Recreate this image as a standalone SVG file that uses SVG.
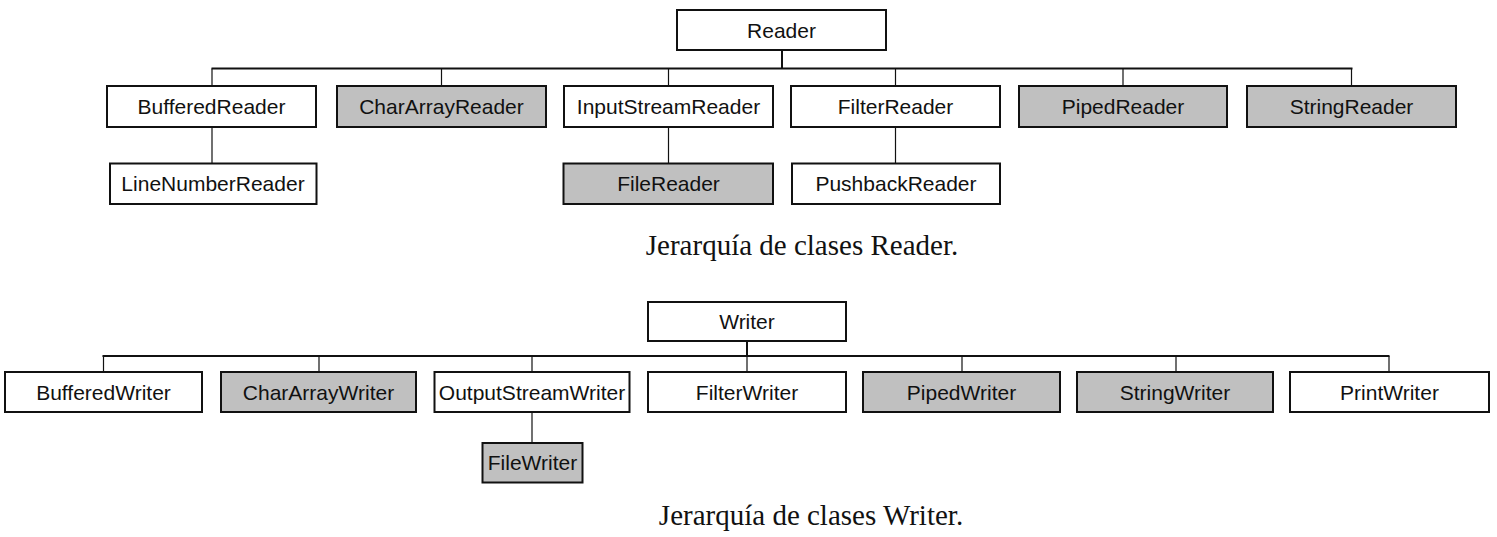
<svg xmlns="http://www.w3.org/2000/svg" width="1497" height="537" viewBox="0 0 1497 537">
<style>
.box{fill:#ffffff;stroke:#111;stroke-width:2}
.gray{fill:#c0c0c0;stroke:#111;stroke-width:2}
.lbl{font-family:"Liberation Sans",Arial,sans-serif;font-size:21px;fill:#111;text-anchor:middle}
.cap{font-family:"Liberation Serif","Times New Roman",serif;font-size:29px;fill:#111;text-anchor:middle}
.bus{stroke:#111;stroke-width:2;fill:none}
.thin{stroke:#111;stroke-width:1.2;fill:none}
</style>
<rect width="1497" height="537" fill="#ffffff"/>
<g id="connectors">
  <line class="bus" x1="782" y1="50" x2="782" y2="68.5"/>
  <line class="bus" x1="211.5" y1="68.5" x2="1352.5" y2="68.5"/>
  <line class="thin" x1="212" y1="68.5" x2="212" y2="86"/>
  <line class="thin" x1="441.5" y1="68.5" x2="441.5" y2="86"/>
  <line class="thin" x1="668.5" y1="68.5" x2="668.5" y2="86"/>
  <line class="thin" x1="895.5" y1="68.5" x2="895.5" y2="86"/>
  <line class="thin" x1="1123" y1="68.5" x2="1123" y2="86"/>
  <line class="thin" x1="1351.5" y1="68.5" x2="1351.5" y2="86"/>
  <line class="thin" x1="212" y1="127" x2="212" y2="163.5"/>
  <line class="thin" x1="668.5" y1="127" x2="668.5" y2="163.5"/>
  <line class="thin" x1="895.5" y1="127" x2="895.5" y2="163.5"/>
  <line class="bus" x1="747" y1="341" x2="747" y2="356"/>
  <line class="bus" x1="102.5" y1="356" x2="1389.5" y2="356"/>
  <line class="thin" x1="103.5" y1="356" x2="103.5" y2="372"/>
  <line class="thin" x1="319" y1="356" x2="319" y2="372"/>
  <line class="thin" x1="532" y1="356" x2="532" y2="372"/>
  <line class="thin" x1="747" y1="356" x2="747" y2="372"/>
  <line class="thin" x1="962" y1="356" x2="962" y2="372"/>
  <line class="thin" x1="1176" y1="356" x2="1176" y2="372"/>
  <line class="thin" x1="1389" y1="356" x2="1389" y2="372"/>
  <line class="thin" x1="532" y1="412" x2="532" y2="443"/>
</g>
<g id="Reader"><rect class="box" x="677" y="10" width="209" height="40"/><text class="lbl" x="781.5" y="37.5">Reader</text></g>
<g id="BufferedReader"><rect class="box" x="107" y="86" width="209" height="41"/><text class="lbl" x="211.5" y="114">BufferedReader</text></g>
<g id="CharArrayReader"><rect class="gray" x="337" y="86" width="209" height="41"/><text class="lbl" x="441.5" y="114">CharArrayReader</text></g>
<g id="InputStreamReader"><rect class="box" x="564" y="86" width="209" height="41"/><text class="lbl" x="668.5" y="114">InputStreamReader</text></g>
<g id="FilterReader"><rect class="box" x="791" y="86" width="209" height="41"/><text class="lbl" x="895.5" y="114">FilterReader</text></g>
<g id="PipedReader"><rect class="gray" x="1019" y="86" width="208" height="41"/><text class="lbl" x="1123" y="114">PipedReader</text></g>
<g id="StringReader"><rect class="gray" x="1247" y="86" width="209" height="41"/><text class="lbl" x="1351.5" y="114">StringReader</text></g>
<g id="LineNumberReader"><rect class="box" x="110" y="163.5" width="206.5" height="40.5"/><text class="lbl" x="213" y="191">LineNumberReader</text></g>
<g id="FileReader"><rect class="gray" x="563.5" y="163.5" width="209.5" height="40.5"/><text class="lbl" x="668.5" y="191">FileReader</text></g>
<g id="PushbackReader"><rect class="box" x="792" y="163.5" width="208" height="40.5"/><text class="lbl" x="896" y="191">PushbackReader</text></g>
<text class="cap" x="802" y="255">Jerarquía de clases Reader.</text>
<g id="Writer"><rect class="box" x="648" y="302" width="198" height="39"/><text class="lbl" x="747" y="329">Writer</text></g>
<g id="BufferedWriter"><rect class="box" x="5" y="372" width="197" height="40"/><text class="lbl" x="103.5" y="399.5">BufferedWriter</text></g>
<g id="CharArrayWriter"><rect class="gray" x="221" y="372" width="195" height="40"/><text class="lbl" x="318.5" y="399.5">CharArrayWriter</text></g>
<g id="OutputStreamWriter"><rect class="box" x="434.5" y="372" width="195" height="40"/><text class="lbl" x="532" y="399.5">OutputStreamWriter</text></g>
<g id="FilterWriter"><rect class="box" x="648" y="372" width="198" height="40"/><text class="lbl" x="747" y="399.5">FilterWriter</text></g>
<g id="PipedWriter"><rect class="gray" x="863" y="372" width="197" height="40"/><text class="lbl" x="961.5" y="399.5">PipedWriter</text></g>
<g id="StringWriter"><rect class="gray" x="1077" y="372" width="196" height="40"/><text class="lbl" x="1175" y="399.5">StringWriter</text></g>
<g id="PrintWriter"><rect class="box" x="1290" y="372" width="199" height="40"/><text class="lbl" x="1389.5" y="399.5">PrintWriter</text></g>
<g id="FileWriter"><rect class="gray" x="482.5" y="443" width="100" height="39.5"/><text class="lbl" x="532.5" y="470">FileWriter</text></g>
<text class="cap" x="811" y="525">Jerarquía de clases Writer.</text>
</svg>
